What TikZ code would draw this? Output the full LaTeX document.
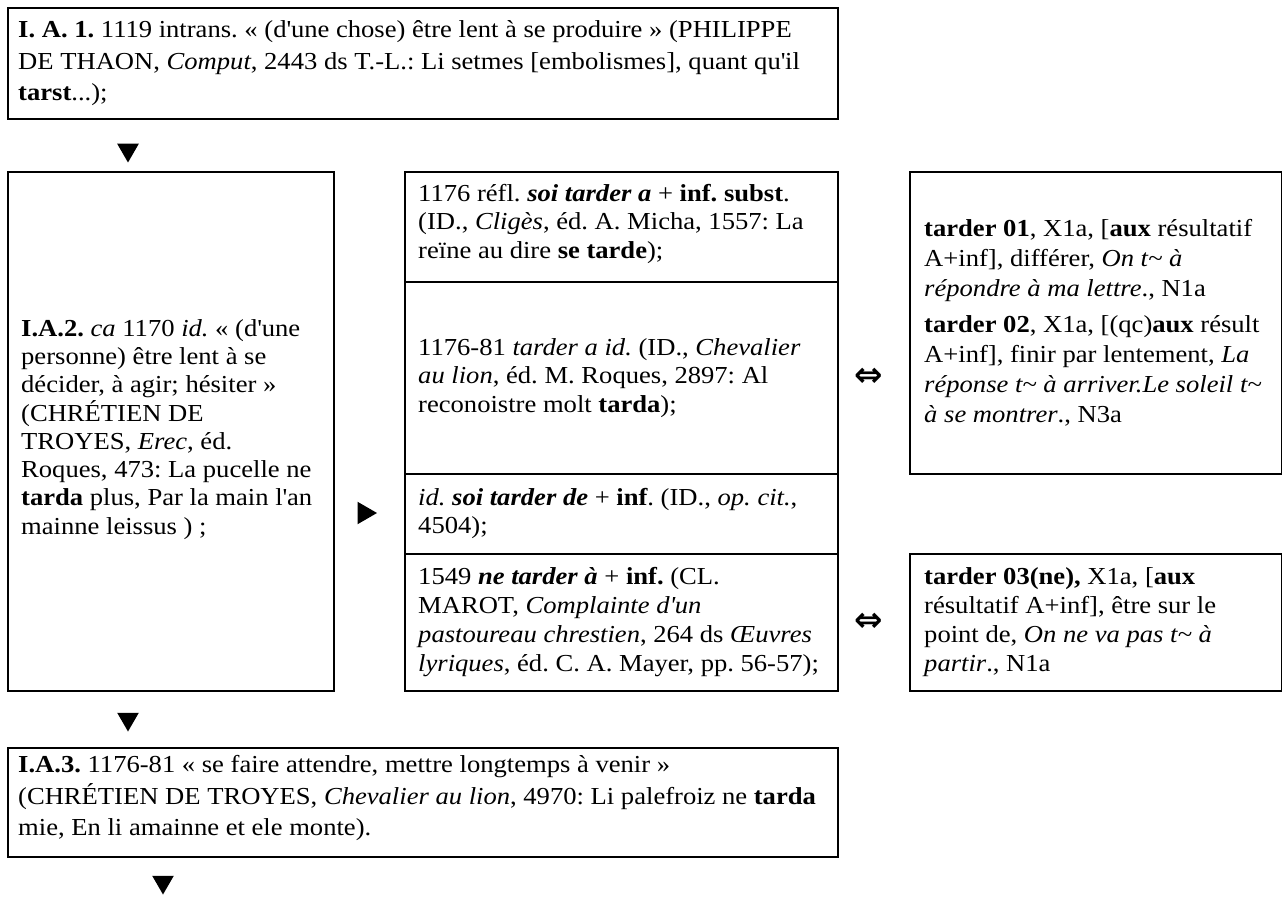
\documentclass[tikz,border=0pt]{standalone}
\usepackage{fontspec}
\setmainfont{Liberation Serif}[FakeStretch=1.09]
\newfontfamily\symfont{DejaVu Sans}
\usetikzlibrary{shapes.geometric}
\newcommand\ap{\textquotesingle}
\newcommand\tl{\textasciitilde}
\newcommand\colfont{\fontsize{24.4pt}{28.3pt}\selectfont\frenchspacing\lineskiplimit=-100pt}
\newcommand\lowfont{\fontsize{24.4pt}{29pt}\selectfont\frenchspacing\lineskiplimit=-100pt}
\newcommand\rightfont{\fontsize{24.4pt}{30pt}\selectfont\frenchspacing\lineskiplimit=-100pt}
\newcommand\widefont{\fontsize{24.4pt}{31.5pt}\selectfont\frenchspacing\lineskiplimit=-100pt}
\tikzset{
  box/.style={draw, line width=1.7pt, anchor=north west, inner sep=0pt},
  txt/.style={anchor=west, inner sep=0pt, align=left, font=\colfont},
  lowtxt/.style={txt, font=\lowfont},
  righttxt/.style={txt, font=\rightfont},
  widetxt/.style={txt, font=\widefont},
  tridown/.style={regular polygon, regular polygon sides=3, shape border rotate=180,
    fill=black, inner sep=0pt, minimum size=25pt},
  triright/.style={regular polygon, regular polygon sides=3, shape border rotate=-90,
    fill=black, inner sep=0pt, minimum size=26pt},
  equiv/.style={inner sep=0pt, font=\symfont\bfseries\fontsize{34pt}{34pt}\selectfont}
}
\begin{document}
\begin{tikzpicture}[x=1pt, y=-1pt]
\useasboundingbox[fill=white] (0,0) rectangle (1282,904);

% boxes
\node[box, minimum width=830pt, minimum height=111pt] (top) at (7,7) {};
\node[box, minimum width=326pt, minimum height=519pt] (left) at (7,171) {};
\node[box, minimum width=433pt, minimum height=110pt] (m1) at (404,171) {};
\node[box, minimum width=433pt, minimum height=192pt] (m2) at (404,281) {};
\node[box, minimum width=433pt, minimum height=80pt] (m3) at (404,473) {};
\node[box, minimum width=433pt, minimum height=137pt] (m4) at (404,553) {};
\node[box, minimum width=372pt, minimum height=302pt] (r1box) at (909,171) {};
\node[box, minimum width=372pt, minimum height=137pt] (r2box) at (909,553) {};
\node[box, minimum width=830pt, minimum height=109pt] (bot) at (7,747) {};

% texts
\node[widetxt] (topt) at ([xshift=11pt]top.west)
{\textbf{I. A. 1.} 1119 intrans. « (d\ap une chose) être lent à se produire » (PHILIPPE\\
DE THAON, \textit{Comput}, 2443 ds T.-L.: Li setmes [embolismes], quant qu\ap il\\
\textbf{tarst}...);};

\node[txt] (leftt) at ([xshift=14pt,yshift=2pt]left.west)
{\textbf{I.A.2.} \textit{ca} 1170 \textit{id.} « (d\ap une\\
personne) être lent à se\\
décider, à agir; hésiter »\\
(CHRÉTIEN DE\\
TROYES, \textit{Erec}, éd.\\
Roques, 473: La pucelle ne\\
\textbf{tarda} plus, Par la main l\ap an\\
mainne leissus ) ;};

\node[txt] (m1t) at ([xshift=14pt,yshift=3pt]m1.west)
{1176 réfl. \textbf{\textit{soi tarder a}} + \textbf{inf. subst}.\\
(ID., \textit{Cligès}, éd. A. Micha, 1557: La\\
reïne au dire \textbf{se tarde});};

\node[txt] (m2t) at ([xshift=14pt]m2.west)
{1176-81 \textit{tarder a id.} (ID., \textit{Chevalier}\\
\textit{au lion}, éd. M. Roques, 2897: Al\\
reconoistre molt \textbf{tarda});};

\node[txt] (m3t) at ([xshift=14pt]m3.west)
{\textit{id.} \textbf{\textit{soi tarder de}} + \textbf{inf}. (ID., \textit{op. cit.},\\
4504);};

\node[lowtxt] (m4t) at ([xshift=14pt]m4.west)
{1549 \textbf{\textit{ne tarder à}} + \textbf{inf.} (CL.\\
MAROT, \textit{Complainte d\ap un}\\
\textit{pastoureau chrestien}, 264 ds \textit{Œuvres}\\
\textit{lyriques}, éd. C. A. Mayer, pp. 56-57);};

\node[righttxt] (r1t) at ([xshift=15pt]r1box.west)
{\textbf{tarder 01}, X1a, [\textbf{aux} résultatif\\
A+inf], différer, \textit{On t\tl{} à}\\
\textit{répondre à ma lettre}., N1a\\[6pt]
\textbf{tarder 02}, X1a, [(qc)\textbf{aux} résult\\
A+inf], finir par lentement, \textit{La}\\
\textit{réponse t\tl{} à arriver.Le soleil t\tl}\\
\textit{à se montrer}., N3a};

\node[lowtxt] (r2t) at ([xshift=15pt]r2box.west)
{\textbf{tarder 03(ne),} X1a, [\textbf{aux}\\
résultatif A+inf], être sur le\\
point de, \textit{On ne va pas t\tl{} à}\\
\textit{partir}., N1a};

\node[widetxt] (bott) at ([xshift=11pt,yshift=4pt]bot.west)
{\textbf{I.A.3.} 1176-81 « se faire attendre, mettre longtemps à venir »\\
(CHRÉTIEN DE TROYES, \textit{Chevalier au lion}, 4970: Li palefroiz ne \textbf{tarda}\\
mie, En li amainne et ele monte).};

% arrows / symbols
\node[tridown] (d1) at (128,150) {};
\node[triright] (r1) at (364,513) {};
\node[equiv] (e1) at (869,377) {⇔};
\node[equiv] (e2) at (869,622) {⇔};
\node[tridown] (d2) at (128,719) {};
\node[tridown] (d3) at (163,882) {};
\end{tikzpicture}
\end{document}
